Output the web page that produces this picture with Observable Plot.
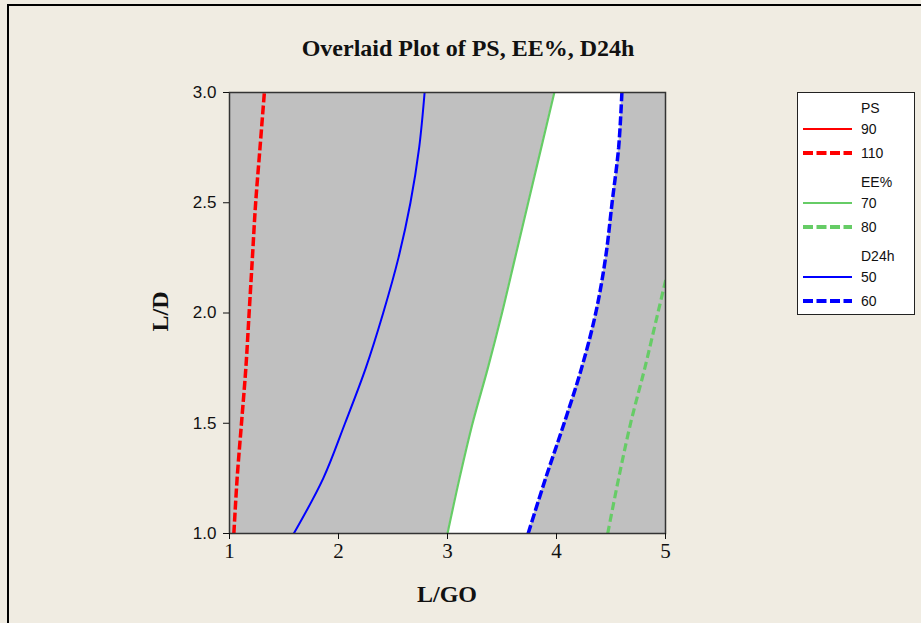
<!DOCTYPE html>
<html>
<head>
<meta charset="utf-8">
<script src="https://cdn.jsdelivr.net/npm/d3@7"></script>
<script src="https://cdn.jsdelivr.net/npm/@observablehq/plot@0.6"></script>
<style>
  html, body { margin: 0; padding: 0; }
  body { width: 921px; height: 623px; overflow: hidden; position: relative; background: #f0ece2; }
  #frame { position: absolute; left: 7px; top: 4px; width: 940px; height: 650px; border-left: 2px solid #000; border-top: 2px solid #000; box-sizing: border-box; }
  #chart { position: absolute; left: 0; top: 0; }
  #title { position: absolute; left: 0; width: 936px; top: 35px; text-align: center; font: bold 24px "Liberation Serif", serif; color: #111; white-space: nowrap; }
  #xlabel { position: absolute; left: 347px; width: 200px; top: 581px; text-align: center; font: bold 24px "Liberation Serif", serif; color: #111; }
  #ylabel { position: absolute; left: 60px; width: 200px; top: 298px; text-align: center; font: bold 24px "Liberation Serif", serif; color: #111; transform: rotate(-90deg); }
  #legend { position: absolute; left: 0; top: 0; }
</style>
</head>
<body>
<div id="frame"></div>
<div id="title">Overlaid Plot of PS, EE%, D24h</div>
<div id="chart"></div>
<div id="xlabel">L/GO</div>
<div id="ylabel">L/D</div>
<svg id="legend" width="921" height="623"></svg>
<script>
// ---- data (x values of each contour read at common L/D levels) ----
const yLevels = [1.0, 1.25, 1.5, 1.75, 2.0, 2.25, 2.5, 2.75, 3.0];
const ps110 = [1.04, 1.07, 1.11, 1.15, 1.18, 1.21, 1.24, 1.28, 1.32];
const ee70  = [3.00, 3.11, 3.23, 3.37, 3.50, 3.62, 3.74, 3.86, 3.98];
const ee80  = [4.47, 4.57, 4.68, 4.81, 4.93, 5.05, null, null, null];
const d50   = [1.59, 1.86, 2.06, 2.25, 2.41, 2.55, 2.66, 2.74, 2.79];
const d60   = [3.74, 3.90, 4.07, 4.23, 4.36, 4.45, 4.51, 4.57, 4.60];
const xTicks = [1, 2, 3, 4, 5];
const yTicks = [1.0, 1.5, 2.0, 2.5, 3.0];

const legendGroups = ["PS", "EE%", "D24h"];
const legendItems = [
  {group: "PS", label: "90", color: "#ff0000", dashed: false},
  {group: "PS", label: "110", color: "#ff0000", dashed: true},
  {group: "EE%", label: "70", color: "#66cc66", dashed: false},
  {group: "EE%", label: "80", color: "#66cc66", dashed: true},
  {group: "D24h", label: "50", color: "#0000ff", dashed: false},
  {group: "D24h", label: "60", color: "#0000ff", dashed: true}
];

const rows = yLevels.map((y, i) => ({y, ps110: ps110[i], ee70: ee70[i], ee80: ee80[i], d50: d50[i], d60: d60[i]}));
const curve = "catmull-rom";
const dashed = {strokeLinecap: "butt", strokeLinejoin: "miter"};

const chart = Plot.plot({
  width: 921, height: 623,
  marginLeft: 229, marginRight: 256, marginTop: 92, marginBottom: 90,
  x: {domain: [1, 5]},
  y: {domain: [1, 3]},
  style: {background: "transparent", overflow: "visible"},
  marks: [
    Plot.frame({fill: "#c0c0c0"}),
    Plot.areaX(rows, {y: "y", x1: "ee70", x2: "d60", fill: "white", curve, clip: true}),
    Plot.line(rows, {x: "ps110", y: "y", stroke: "#ff0000", strokeWidth: 3.5, strokeDasharray: "9,3", curve, clip: true, ...dashed}),
    Plot.line(rows, {x: "d50", y: "y", stroke: "#0000ff", strokeWidth: 2, curve, clip: true}),
    Plot.line(rows, {x: "ee70", y: "y", stroke: "#66cc66", strokeWidth: 2.2, curve, clip: true}),
    Plot.line(rows, {x: "d60", y: "y", stroke: "#0000ff", strokeWidth: 3.5, strokeDasharray: "9,3", curve, clip: true, ...dashed}),
    Plot.line(rows, {x: "ee80", y: "y", stroke: "#66cc66", strokeWidth: 3.2, strokeDasharray: "8,4", curve, clip: true, ...dashed}),
    Plot.frame({stroke: "#333", strokeWidth: 1.5}),
    Plot.axisX(xTicks, {tickSize: 6, tickPadding: 4, fontSize: 21, fontFamily: "Liberation Serif", fill: "#111", stroke: "#111", label: null, tickFormat: d => String(d)}),
    Plot.axisY(yTicks, {tickSize: 6, tickPadding: 7, fontSize: 17, fontFamily: "Liberation Sans", fill: "#111", stroke: "#111", label: null, tickFormat: d3.format(".1f")})
  ]
});
document.getElementById("chart").appendChild(chart);

// ---- legend ----
const lg = d3.select("#legend");
const lx = 797, ly = 92, lw = 117, lh = 222;
lg.append("rect").attr("x", lx + 0.5).attr("y", ly + 0.5).attr("width", lw).attr("height", lh)
  .attr("fill", "#ffffff").attr("stroke", "#222").attr("stroke-width", 1);
legendGroups.forEach((g, gi) => {
  const gy = 108 + gi * 74;
  lg.append("text").attr("x", 861).attr("y", gy).attr("dy", "0.35em")
    .attr("font-family", "Liberation Sans").attr("font-size", 14).attr("fill", "#111").text(g);
  legendItems.filter(d => d.group === g).forEach((d, j) => {
    const iy = gy + 21 + j * 24;
    lg.append("line").attr("x1", 803).attr("x2", 852).attr("y1", iy).attr("y2", iy)
      .attr("stroke", d.color).attr("stroke-width", d.dashed ? 4 : 2)
      .attr("stroke-dasharray", d.dashed ? "10,3.5" : null);
    lg.append("text").attr("x", 861).attr("y", iy).attr("dy", "0.35em")
      .attr("font-family", "Liberation Sans").attr("font-size", 14).attr("fill", "#111").text(d.label);
  });
});
</script>
</body>
</html>
